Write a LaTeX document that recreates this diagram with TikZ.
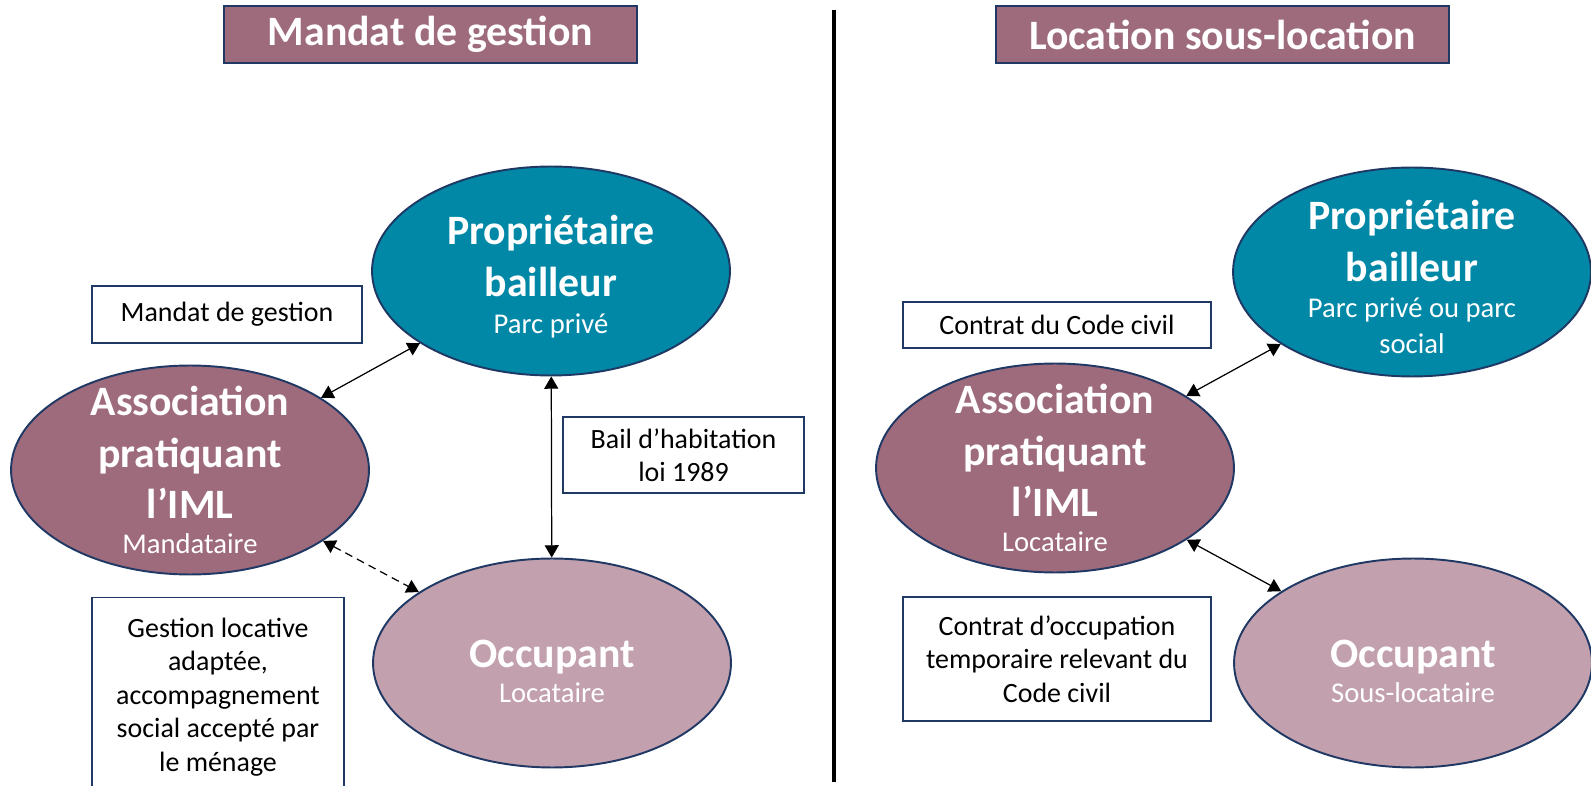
\documentclass[tikz,border=0pt]{standalone}
\usepackage{fontspec}
\setmainfont{Carlito}
\usetikzlibrary{shapes.geometric,arrows.meta}

\definecolor{navy}{RGB}{31,56,100}
\definecolor{mauve}{RGB}{158,107,125}
\definecolor{paleMauve}{RGB}{194,160,174}
\definecolor{petrol}{RGB}{0,136,166}

\newcommand{\bigname}{\fontsize{23.8}{29.5}\selectfont\bfseries}
\newcommand{\smallname}{\fontsize{16.3}{21}\selectfont\mdseries}

\tikzstyle{arrow} = [line width=0.7pt, {Triangle[length=7pt,width=8pt]}-{Triangle[length=7pt,width=8pt]}]
\tikzstyle{dasharrow} = [arrow, dash pattern=on 4.5pt off 3pt]
\tikzstyle{titlebox} = [
        rectangle,
        draw=navy,
        line width=1.2pt,
        fill=mauve,
        text=white,
        font=\bigname,
        minimum height=1.14cm,
    ]
\tikzstyle{bubble} = [
        ellipse,
        draw=navy,
        line width=1.1pt,
        minimum width=7.16cm,
        minimum height=4.18cm,
        inner sep=0pt,
    ]
\tikzstyle{bubbletext} = [
        align=center,
        text=white,
        font=\bigname,
        inner sep=0pt,
    ]
\tikzstyle{notebox} = [
        rectangle,
        draw=navy,
        line width=1.1pt,
        fill=white,
        align=center,
        font=\fontsize{15.9}{19}\selectfont,
    ]

\begin{document}
\begin{tikzpicture}[x=0.02cm, y=-0.02cm]
            \useasboundingbox (0,0) rectangle (1591,786);
            % titles
            \node [titlebox, minimum width=8.26cm] (titleA) at (430.5,34.5) {Mandat de gestion};
            \node [titlebox, minimum width=9.06cm] (titleB) at (1222.5,34.5) {Location sous-location};
            \draw [line width=2.3pt] (834,10) -- (834,782);

            % left: mandat de gestion
            \node [bubble, fill=petrol] (propA) at (551,271) {};
            \node [bubbletext, yshift=-0.12cm] (propA-t) at (propA) {Propriétaire\\ bailleur\\[-8.5pt] \smallname Parc privé};
            \node [bubble, fill=mauve] (assocA) at (190,470) {};
            \node [bubbletext] (assocA-t) at (assocA) {Association\\ pratiquant\\ l’IML\\[-9.5pt] \smallname Mandataire};
            \node [bubble, fill=paleMauve] (occA) at (552,663) {};
            \node [bubbletext, yshift=-0.16cm] (occA-t) at (occA) {Occupant\\[-9.5pt] \smallname Locataire};
            \node [notebox, minimum width=5.4cm, minimum height=1.14cm] (mandat) at (227,314.5) {Mandat de gestion};
            \node [notebox, minimum width=4.82cm, minimum height=1.52cm] (bail) at (683.5,455) {Bail d’habitation\\ loi 1989};
            \node [notebox, minimum width=5.04cm, minimum height=3.98cm] (gestion) at (218,697) {Gestion locative\\ adaptée,\\ accompagnement\\ social accepté par\\ le ménage};
            \draw [arrow] (assocA) -- (propA);
            \draw [arrow] (propA) -- (occA);
            \draw [dasharrow] (assocA) -- (occA);

            % right: location sous-location
            \node [bubble, fill=petrol] (propB) at (1412,272) {};
            \node [bubbletext, yshift=-0.1cm] (propB-t) at (propB) {Propriétaire\\ bailleur\\[-9pt] \smallname Parc privé ou parc\\[-8.5pt] \smallname social};
            \node [bubble, fill=mauve] (assocB) at (1055,468) {};
            \node [bubbletext] (assocB-t) at (assocB) {Association\\ pratiquant\\ l’IML\\[-9.5pt] \smallname Locataire};
            \node [bubble, fill=paleMauve] (occB) at (1413,663) {};
            \node [bubbletext, yshift=-0.16cm] (occB-t) at (occB) {Occupant\\[-9.5pt] \smallname Sous-locataire};
            \node [notebox, minimum width=6.16cm, minimum height=0.92cm] (contrat) at (1057,325) {Contrat du Code civil};
            \node [notebox, minimum width=6.16cm, minimum height=2.48cm] (occupation) at (1057,659) {Contrat d’occupation\\ temporaire relevant du\\ Code civil};
            \draw [arrow] (assocB) -- (propB);
            \draw [arrow] (assocB) -- (occB);
        \end{tikzpicture}
\end{document}
